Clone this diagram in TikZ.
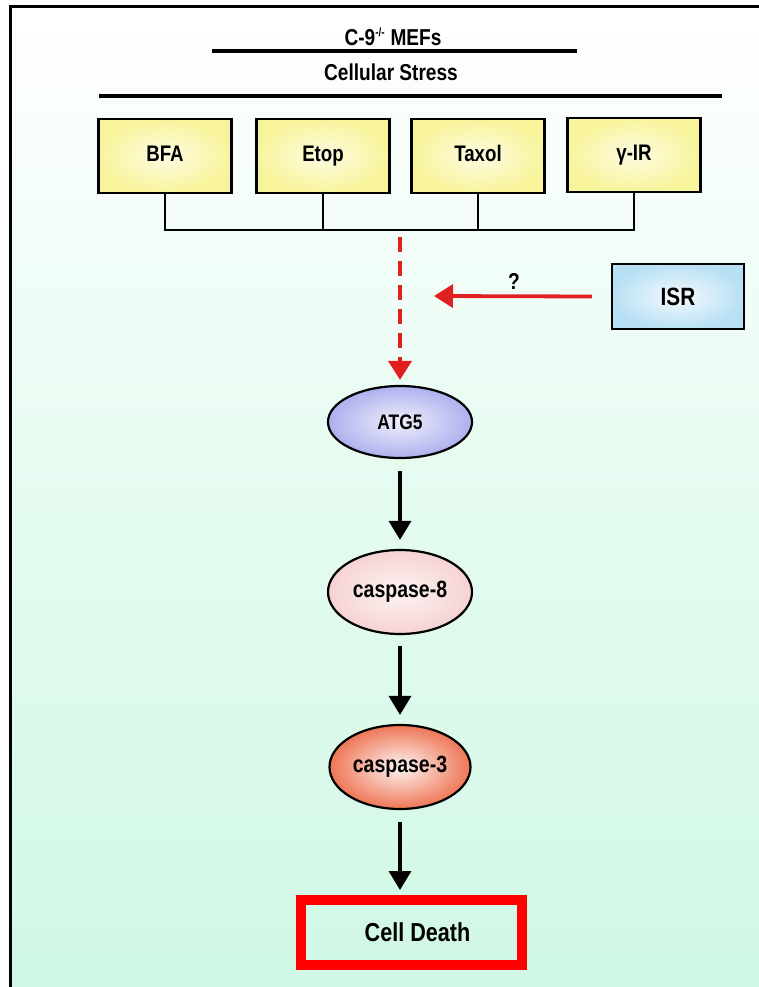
\documentclass[tikz,border=0pt]{standalone}
\usepackage{fontspec}
\setmainfont{Liberation Sans}[FakeStretch=0.83]
\usetikzlibrary{shapes.geometric,arrows.meta}
\definecolor{mint}{HTML}{D0F8E4}
\definecolor{stressyel}{HTML}{F8F49C}
\definecolor{isrblue}{HTML}{B8E0F4}
\definecolor{atglav}{HTML}{AEB0EE}
\definecolor{casppink}{HTML}{F6D2D2}
\definecolor{caspsalmon}{HTML}{EE7656}
\definecolor{arrowred}{HTML}{E02020}
\newcommand{\fsz}[1]{\fontsize{#1}{#1}\selectfont\bfseries}
\tikzset{
  stressbox/.style={draw=black, line width=2.6pt, minimum width=133, minimum height=74,
    text height=15pt, text depth=3pt,
    inner color=white!70!stressyel, outer color=stressyel, font=\fsz{22.5}},
  isrbox/.style={draw=black, line width=2.4pt, minimum width=132, minimum height=65,
    inner color=white!85!isrblue, outer color=isrblue, font=\fsz{25}},
  molecule/.style={ellipse, draw=black, line width=2.2pt, inner sep=0pt},
  headline/.style={line width=4.2pt},
  busline/.style={line width=1.8pt},
  flow/.style={line width=3.4pt, -{Triangle[length=19pt,width=22pt]}},
  redflow/.style={line width=3.8pt, draw=arrowred, -{Triangle[length=19pt,width=23pt]}},
}
\begin{document}
\begin{tikzpicture}[x=1pt,y=-1pt]
  \useasboundingbox (0,0) rectangle (759,987);
  % panel background and frame
  \fill[white] (0,0) rectangle (759,987);
  \fill[top color=white, bottom color=mint, middle color=white!45!mint] (10,7) rectangle (759,987);
  \draw[line width=3pt] (10,987) -- (10,7) -- (759,7);

  % header
  \node[font=\fsz{23}, anchor=base] (mefs) at (393,46) {C-9\textsuperscript{\fontsize{12}{12}\selectfont -/-} MEFs};
  \draw[headline] (212,51) -- (577,51);
  \node[font=\fsz{23}, anchor=base] (stress) at (391,81) {Cellular Stress};
  \draw[headline] (99,96) -- (722,96);

  % stress inducers
  \node[stressbox] (bfa)   at (165,156) {BFA};
  \node[stressbox] (etop)  at (323,156) {Etop};
  \node[stressbox] (taxol) at (478,156) {Taxol};
  \node[stressbox] (gir)   at (634,155) {γ-IR};

  \coordinate (bus) at (400,230);
  \draw[busline] (bfa.south) -- (bfa.south |- bus) -- (gir.south |- bus) -- (gir.south);
  \draw[busline] (etop.south) -- (etop.south |- bus);
  \draw[busline] (taxol.south) -- (taxol.south |- bus);

  % pathway
  \node[molecule, minimum width=144, minimum height=72,
        inner color=white!80!atglav, outer color=atglav, font=\fsz{21}] (atg5) at (400,422) {ATG5};
  \node[molecule, minimum width=144, minimum height=84,
        inner color=white!75!casppink, outer color=casppink, font=\fsz{23.5}] (casp8) at (400,592) {caspase-8};
  \node[molecule, minimum width=141, minimum height=84,
        inner color=white!92!caspsalmon, outer color=caspsalmon, font=\fsz{23.5}] (casp3) at (400,767) {caspase-3};
  \node[draw=red, line width=10pt, minimum width=221, minimum height=65,
        font=\fsz{26}] (death) at (411.5,932.5) {\hspace*{12pt}Cell Death};

  \node[isrbox] (isr) at (678,296.5) {ISR};
  \coordinate (isrtip) at (434,296);
  \node[font=\fsz{23}] (q) at (514,281) {?};

  \draw[redflow, dash pattern=on 15pt off 9pt, shorten <=7pt, shorten >=5pt]
    (bus) -- (atg5.north);
  \draw[redflow] (isr.west) ++(-19,0) -- (isrtip);
  \draw[flow, shorten <=12pt, shorten >=9pt] (atg5.south) -- (casp8.north);
  \draw[flow, shorten <=11pt, shorten >=9pt] (casp8.south) -- (casp3.north);
  \draw[flow, shorten <=12pt, shorten >=5pt] (casp3.south) -- (death.north -| casp3.south);
\end{tikzpicture}
\end{document}
